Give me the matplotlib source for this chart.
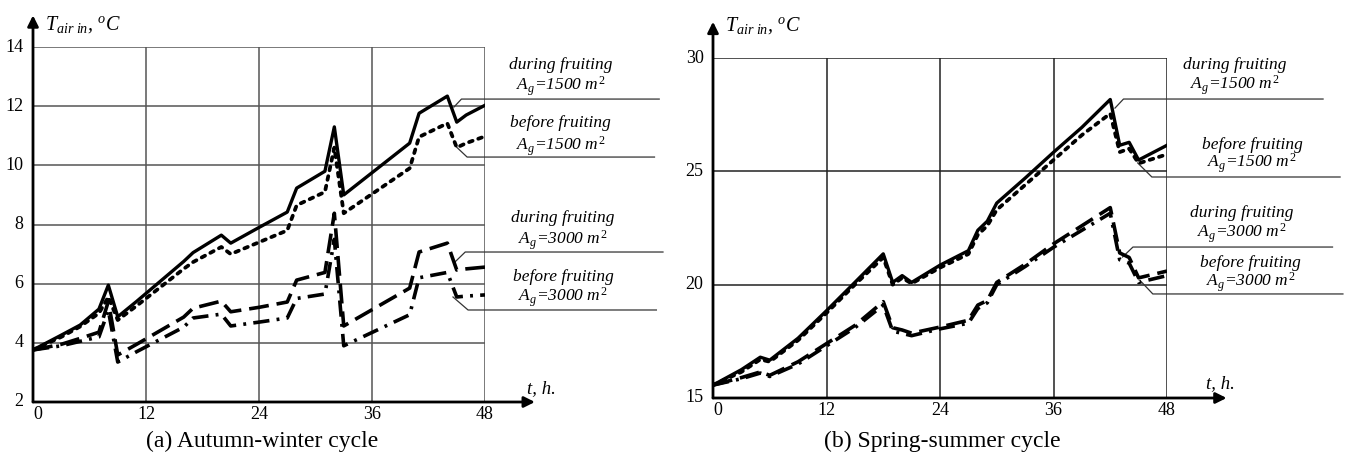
import matplotlib
matplotlib.use("Agg")
import matplotlib.pyplot as plt

plt.rcParams['font.family'] = ['Liberation Serif', 'DejaVu Serif']
plt.rcParams['mathtext.fontset'] = 'custom'
plt.rcParams['mathtext.rm'] = 'Liberation Serif'
plt.rcParams['mathtext.it'] = 'Liberation Serif:italic'

# ---- data: (a) autumn-winter cycle ----
t_aw = [0, 3, 5, 7, 8, 9, 11, 16, 17, 20, 21, 24, 27, 28, 31, 32, 33, 40, 41, 44, 45, 46, 48]
aw_during_1500 = [3.76, 4.26, 4.6, 5.14, 5.95, 4.88, 5.4, 6.75, 7.05, 7.64, 7.37, 7.9, 8.42, 9.23, 9.8, 11.3,
                  9.0, 10.75, 11.76, 12.34, 11.46, 11.7, 12.03]
aw_before_1500 = [3.76, 4.2, 4.55, 5.0, 5.55, 4.77, 5.25, 6.5, 6.73, 7.24, 7.0, 7.4, 7.8, 8.65, 9.1, 10.6,
                  8.38, 9.9, 10.96, 11.42, 10.6, 10.75, 10.98]
aw_during_3000 = [3.76, 3.95, 4.15, 4.36, 5.4, 3.59, 3.95, 4.87, 5.17, 5.41, 5.05, 5.2, 5.38, 6.12, 6.38, 8.38,
                  4.57, 5.85, 7.07, 7.37, 6.46, 6.5, 6.56]
aw_before_3000 = [3.76, 3.9, 4.05, 4.2, 5.1, 3.35, 3.7, 4.53, 4.84, 4.97, 4.57, 4.7, 4.84, 5.5, 5.65, 7.5,
                  3.9, 4.95, 6.2, 6.38, 5.55, 5.58, 5.62]

# ---- data: (b) spring-summer cycle ----
t_ss = [0, 3, 5, 6, 9, 12, 15, 18, 19, 20, 21, 24, 27, 28, 29, 30, 33, 36, 39, 42, 43, 44, 45, 48]
ss_during_1500 = [15.57, 16.25, 16.8, 16.67, 17.64, 18.85, 20.1, 21.36, 20.1, 20.4, 20.1, 20.86, 21.5, 22.4,
                  22.8, 23.6, 24.7, 25.84, 26.94, 28.17, 26.15, 26.28, 25.5, 26.15]
ss_before_1500 = [15.57, 16.15, 16.7, 16.6, 17.55, 18.75, 20.0, 21.2, 20.0, 20.3, 20.05, 20.75, 21.35, 22.2,
                  22.6, 23.3, 24.4, 25.5, 26.6, 27.55, 25.85, 26.0, 25.35, 25.75]
ss_during_3000 = [15.57, 15.9, 16.15, 16.0, 16.6, 17.4, 18.2, 19.25, 18.1, 18.0, 17.86, 18.13, 18.43, 19.1,
                  19.3, 20.1, 20.9, 21.8, 22.6, 23.4, 21.4, 21.2, 20.3, 20.6]
ss_before_3000 = [15.57, 15.85, 16.1, 15.95, 16.5, 17.3, 18.1, 19.1, 17.95, 17.85, 17.75, 18.05, 18.3, 18.95,
                  19.2, 20.0, 20.8, 21.65, 22.4, 23.15, 21.1, 20.95, 20.1, 20.4]

x_ticks = [0, 12, 24, 36, 48]
aw_yticks = [2, 4, 6, 8, 10, 12, 14]
ss_yticks = [15, 20, 25, 30]

labels = [("during fruiting", r"$A_g$=1500 $m^2$"),
          ("before fruiting", r"$A_g$=1500 $m^2$"),
          ("during fruiting", r"$A_g$=3000 $m^2$"),
          ("before fruiting", r"$A_g$=3000 $m^2$")]

# leader lines (curve point, elbow, end) and label centres, in data units
aw_leaders = [[(44.7, 11.97), (45.5, 12.24), (66.5, 12.24)],
              [(45.0, 10.61), (46.1, 10.28), (66.0, 10.28)],
              [(44.8, 6.73), (45.9, 7.07), (66.9, 7.07)],
              [(44.6, 5.55), (46.2, 5.11), (66.2, 5.11)]]
aw_text = [(56.0, 13.38, 12.68), (56.0, 11.43, 10.65), (56.3, 8.22, 7.47), (56.3, 6.22, 5.55)]
ss_leaders = [[(42.5, 27.79), (43.4, 28.19), (64.5, 28.19)],
              [(44.9, 25.37), (46.4, 24.75), (66.3, 24.75)],
              [(43.3, 21.22), (44.4, 21.66), (65.5, 21.66)],
              [(45.3, 20.12), (46.5, 19.59), (66.6, 19.59)]]
ss_text = [(55.2, 29.69, 28.8), (57.0, 26.16, 25.37), (55.9, 23.16, 22.28), (56.8, 20.95, 20.12)]

styles = [dict(ls='-', lw=2.4),
          dict(ls=(0, (1.0, 1.6)), lw=2.7, dash_capstyle='round'),
          dict(ls=(0, (5.5, 2.2)), lw=2.6),
          dict(ls=(0, (4.5, 2.0, 0.8, 2.0)), lw=2.6)]

fig = plt.figure(figsize=(13.45, 4.57), dpi=100)
W, H = 1345.0, 457.0


def panel(rect, t, series, ylim, yticks, leaders, texts, grid_col, xarrow, yarrow, ylab_y,
          caption, capx, tlab):
    ax = fig.add_axes(rect)
    ax.set_xlim(0, 48)
    ax.set_ylim(*ylim)
    ax.axis('off')
    for v in yticks[1:]:
        ax.plot([0, 48], [v, v], color=grid_col, lw=1.1, zorder=1)
    for x in x_ticks[1:]:
        ax.plot([x, x], ylim, color=grid_col, lw=1.1, zorder=1)
    for y, st in zip(series, styles):
        ax.plot(t, y, color='black', zorder=3, **st)
    # axes with arrows
    ax.annotate('', xy=(xarrow, ylim[0]), xytext=(0, ylim[0]), annotation_clip=False,
                arrowprops=dict(arrowstyle='-|>', lw=2, color='black', mutation_scale=16,
                                shrinkA=0, shrinkB=0))
    ax.annotate('', xy=(0, yarrow), xytext=(0, ylim[0]), annotation_clip=False,
                arrowprops=dict(arrowstyle='-|>', lw=2, color='black', mutation_scale=16,
                                shrinkA=0, shrinkB=0))
    for v in yticks:
        ax.text(-1.0, v, str(v), ha='right', va='center', fontsize=13)
    for x in x_ticks:
        ax.text(x + (0.5 if x == 0 else 0), ylim[0] - (ylim[1] - ylim[0]) * 0.012, str(x),
                ha='center', va='top', fontsize=13)
    ax.text(tlab[0], tlab[1], "t, h.", style='italic', ha='center', va='center', fontsize=13.5)
    ax.text(1.3, ylab_y, r"$T_{air\ in}$, $^{o}C$", style='italic',
            ha='left', va='center', fontsize=14.5)
    for pts, (cx, y1, y2), (l1, l2) in zip(leaders, texts, labels):
        xs = [p[0] for p in pts]
        ys = [p[1] for p in pts]
        ax.plot(xs, ys, color='#333333', lw=0.9, clip_on=False, zorder=2)
        ax.text(cx, y1, l1, style='italic', ha='center', va='center', fontsize=12.5)
        ax.text(cx, y2, l2, style='italic', ha='center', va='center', fontsize=12.5)
    fig.text(capx, 0.035, caption, ha='center', va='center', fontsize=17)
    return ax


# (a)
panel([33 / W, (H - 402) / H, 452 / W, 355 / H], t_aw,
      [aw_during_1500, aw_before_1500, aw_during_3000, aw_before_3000],
      (2, 14), aw_yticks, aw_leaders, aw_text, '#555555', 53.3, 15.07, 14.75,
      "(a) Autumn-winter cycle", 262 / W, (54.0, 2.45))
# (b)
panel([713 / W, (H - 398) / H, 454 / W, 340 / H], t_ss,
      [ss_during_1500, ss_before_1500, ss_during_3000, ss_before_3000],
      (15, 30), ss_yticks, ss_leaders, ss_text, '#222222', 54.3, 31.6, 31.45,
      "(b) Spring-summer cycle", 942 / W, (53.6, 15.62))

fig.savefig("out.png", dpi=100)
